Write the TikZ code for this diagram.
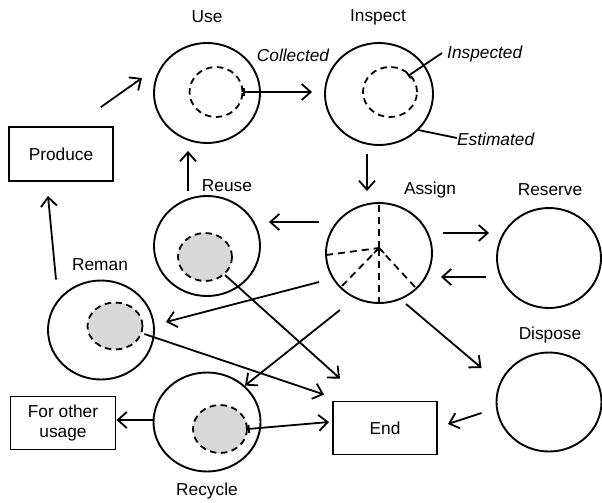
\documentclass[tikz,border=0pt]{standalone}
\usepackage{fontspec}
\setmainfont{Liberation Sans}
\usetikzlibrary{arrows.meta,shapes.geometric}
\definecolor{corefill}{RGB}{216,216,216}
\begin{document}
\begin{tikzpicture}[x=1pt,y=-1pt,
  every node/.style={font=\fontsize{17.3}{20.5}\selectfont},
  state/.style={draw,ellipse,line width=1.9pt,inner sep=0pt},
  core/.style={draw,ellipse,line width=1.8pt,inner sep=0pt,dash pattern=on 6.5pt off 4.5pt},
  filledcore/.style={core,fill=corefill},
  box/.style={draw,rectangle,line width=1.9pt,inner sep=0pt,align=center},
  tag/.style={inner sep=1pt},
  note/.style={inner sep=1pt,font=\fontsize{17.3}{20.5}\selectfont\itshape},
  tipstyle/.style={line width=1.8pt},
  arr/.style={line width=1.8pt,-{Straight Barb[length=9pt,width=16pt,line width=1.8pt]}},
  bararr/.style={line width=1.8pt,{Bar[width=8pt,line width=1.8pt]}-{Straight Barb[length=9pt,width=16pt,line width=1.8pt]}},
  leader/.style={line width=1.8pt},
  split/.style={line width=1.8pt,dash pattern=on 7pt off 5pt}]
\useasboundingbox (0,0) rectangle (602,503);

% life-cycle states
\node[state,minimum width=106,minimum height=100] (use) at (207,93) {};
\node[core,minimum width=53,minimum height=50] (usein) at (216,92) {};
\node[state,minimum width=108,minimum height=102] (inspect) at (379,94) {};
\node[core,minimum width=54,minimum height=50] (inspin) at (390,92) {};
\node[state,minimum width=106,minimum height=100] (assign) at (379,253) {};
\node[state,minimum width=104,minimum height=100] (reserve) at (549,258) {};
\node[state,minimum width=105,minimum height=99] (dispose) at (549,402) {};
\node[state,minimum width=106,minimum height=100] (reuse) at (207,246) {};
\node[filledcore,minimum width=54,minimum height=48] (reusein) at (205,257) {};
\node[state,minimum width=106,minimum height=99] (reman) at (101,330) {};
\node[filledcore,minimum width=55,minimum height=47] (remanin) at (115,326) {};
\node[state,minimum width=107,minimum height=99] (recycle) at (207,422) {};
\node[filledcore,minimum width=54,minimum height=48] (recyclein) at (220,429) {};

% boxes
\node[box,minimum width=104,minimum height=54] (produce) at (61,154) {Produce};
\node[box,minimum width=105,minimum height=53] (other) at (63,423) {For other\\usage};
\node[box,minimum width=104,minimum height=53] (end) at (385,428) {End};

% state names
\node[tag] (tuse) at (207,17) {Use};
\node[tag] (tinspect) at (378,17) {Inspect};
\node[tag] (tassign) at (430,190) {Assign};
\node[tag] (treserve) at (550,190) {Reserve};
\node[tag] (tdispose) at (550,335) {Dispose};
\node[tag] (treuse) at (227,186) {Reuse};
\node[tag] (treman) at (100,265) {Reman};
\node[tag] (trecycle) at (207,491) {Recycle};

% annotations
\node[note] (collected) at (293,55) {Collected};
\node[note,anchor=west] (inspected) at (446,54) {Inspected};
\node[note,anchor=west] (estimated) at (456,139) {Estimated};

% assignment sectors
\coordinate (hub) at ([shift={(0,-5)}]assign.center);
\draw[split] (hub) -- (assign.north);
\draw[split] (assign.south) -- (hub);
\draw[split] ([shift={(1,2)}]assign.west) -- (hub);
\draw[split] ([shift={(-37,33)}]assign.center) -- (hub);
\draw[split] ([shift={(36,34)}]assign.center) -- (hub);
\draw[line width=1.5pt] ([shift={(-5,5)}]hub) -- (hub) -- ([shift={(5,5)}]hub);

% flows
\draw[arr] ([shift={(-13,-19)}]produce.north east) -- ([shift={(-65,-15)}]use.center);
\draw[arr] ([shift={(-45,0)}]reman.north) -- ([shift={(-13,14)}]produce.south);
\draw[arr] ([shift={(-19,-4)}]reuse.north) -- ([shift={(-19,7)}]use.south);
\draw[bararr] (usein.east) -- ([shift={(-12,-2)}]inspect.west);
\draw[arr] ([shift={(-12,8)}]inspect.south) -- ([shift={(-12,-11)}]assign.north);
\draw[arr] ([shift={(10,-20)}]assign.east) -- ([shift={(-7,-25)}]reserve.west);
\draw[arr] ([shift={(-10,19)}]reserve.west) -- ([shift={(8,24)}]assign.east);
\draw[arr] ([shift={(-6,-31)}]assign.west) -- ([shift={(8,-24)}]reuse.east);
\draw[arr] ([shift={(-6,29)}]assign.west) -- ([shift={(11,-8)}]reman.east);
\draw[arr] ([shift={(-39,6)}]assign.south) -- ([shift={(38,14)}]recycle.north);
\draw[arr] ([shift={(27,0)}]assign.south) -- ([shift={(-14,-34)}]dispose.west);
\draw[arr] ([shift={(-14,11)}]dispose.west) -- ([shift={(10,-4)}]end.east);
\draw[arr] ([shift={(20,18)}]reusein.center) -- ([shift={(-45,-22)}]end.north);
\draw[arr] ([shift={(1,8)}]remanin.east) -- ([shift={(-8,-6)}]end.north west);
\draw[bararr] (recyclein.east) -- ([shift={(-3,-6)}]end.west);
\draw[arr] ([shift={(0,-2)}]recycle.west) -- ([shift={(0,-3)}]other.east);

% annotation leaders
\draw[leader,{Bar[width=7pt,line width=1.8pt]}-] ([shift={(18,-16)}]inspin.center) -- ([shift={(-4,-1)}]inspected.west);
\draw[leader] ([shift={(39,36)}]inspect.center) -- ([shift={(1,-1)}]estimated.west);
\end{tikzpicture}
\end{document}
